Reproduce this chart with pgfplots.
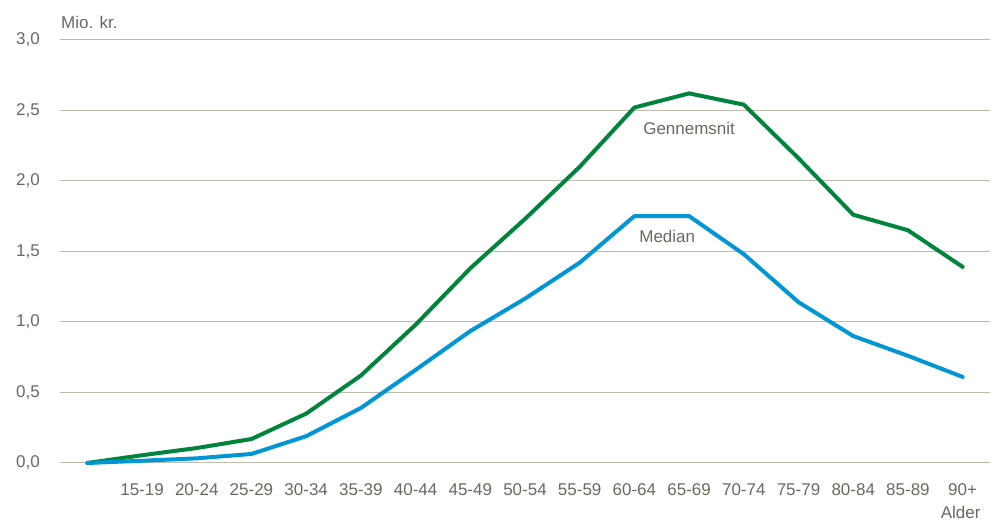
\documentclass[border=0pt]{standalone}
\usepackage{fontspec}
\setmainfont{Liberation Sans}
\usepackage{pgfplots}
\pgfplotsset{compat=1.18}
\definecolor{dsgreen}{RGB}{0,132,61}
\definecolor{dsblue}{RGB}{0,150,214}
\definecolor{gridc}{RGB}{190,187,174}
\definecolor{txtc}{RGB}{105,105,95}
\begin{document}
\begin{tikzpicture}[font=\fontsize{17}{20}\selectfont\color{txtc}]
\useasboundingbox (-60pt,-63pt) rectangle (933pt,463pt);
\begin{axis}[
  at={(0,0)}, anchor=south west,
  scale only axis,
  width=930pt, height=423.2pt,
  xmin=-0.5, xmax=16.5,
  ymin=0, ymax=3,
  clip=false,
  ytick={0,0.5,...,3},
  xtick={1,...,16},
  xticklabels={15-19,20-24,25-29,30-34,35-39,40-44,45-49,50-54,55-59,60-64,65-69,70-74,75-79,80-84,85-89,90+},
  axis line style={draw=none},
  major tick length=0pt,
  ymajorgrids,
  grid style={gridc, line width=1pt},
  tick label style={font=\fontsize{17}{20}\selectfont, text=txtc},
  yticklabel style={inner sep=0pt, anchor=east, xshift=-20pt},
  xticklabel style={inner sep=0pt, anchor=north, yshift=-20pt},
  /pgf/number format/assume math mode=true,
  /pgf/number format/.cd, use comma, fixed, fixed zerofill, precision=1,
]
\addplot[dsgreen, line width=4pt, line join=round, line cap=round] coordinates {
  (0,0.00) (1,0.055) (2,0.106) (3,0.17) (4,0.35) (5,0.62) (6,0.98) (7,1.38) (8,1.73) (9,2.10)
  (10,2.52) (11,2.62) (12,2.54) (13,2.16) (14,1.76) (15,1.65) (16,1.39)};
\addplot[dsblue, line width=4pt, line join=round, line cap=round] coordinates {
  (0,0.00) (1,0.016) (2,0.033) (3,0.064) (4,0.19) (5,0.39) (6,0.66) (7,0.935) (8,1.165) (9,1.42)
  (10,1.75) (11,1.75) (12,1.48) (13,1.14) (14,0.90) (15,0.76) (16,0.61)};
\node[anchor=center, inner sep=0pt] at (axis cs:11,2.37) {Gennemsnit};
\node[anchor=center, inner sep=0pt] at (axis cs:10.6,1.604) {Median};
\node[anchor=base west, inner sep=0pt] at (rel axis cs:0,1) [yshift=11pt, xshift=1pt] {Mio. kr.};
\node[anchor=north, inner sep=0pt] at (axis cs:16,0) [yshift=-43pt, xshift=-2pt] {Alder};
\end{axis}
\end{tikzpicture}
\end{document}
